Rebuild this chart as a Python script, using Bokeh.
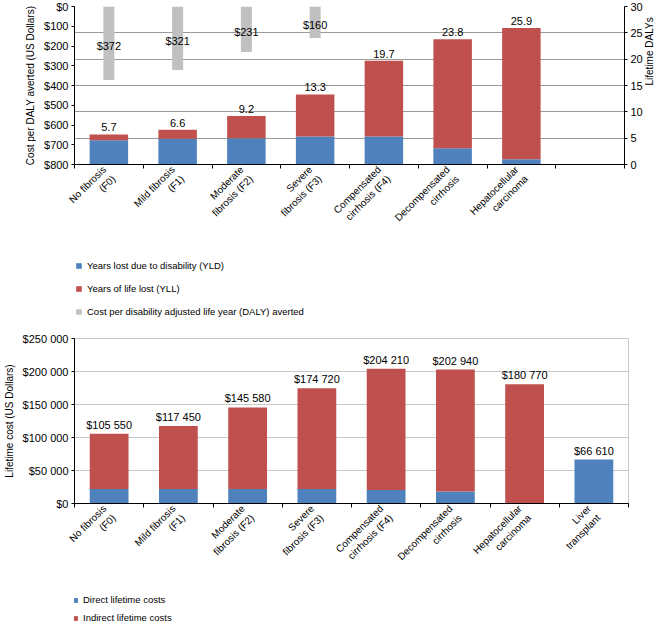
import math
from bokeh.plotting import figure
from bokeh.models import (ColumnDataSource, Range1d, LinearAxis, FixedTicker,
                          Legend, LegendItem, LabelSet)
from bokeh.core.properties import value
from bokeh.layouts import column
from bokeh.embed import file_html
from bokeh.resources import INLINE

# ---------------- data: top chart ----------------
stages_top = ["No fibrosis\n(F0)", "Mild fibrosis\n(F1)", "Moderate\nfibrosis (F2)",
              "Severe\nfibrosis (F3)", "Compensated\ncirrhosis (F4)",
              "Decompensated\ncirrhosis", "Hepatocellular\ncarcinoma"]
yld = [4.6, 4.9, 5.0, 5.3, 5.3, 3.1, 1.0]
daly_total = [5.7, 6.6, 9.2, 13.3, 19.7, 23.8, 25.9]
cost_per_daly = [372, 321, 231, 160]
cost_ticks = [0, 100, 200, 300, 400, 500, 600, 700, 800]
cost_tick_labels = ["$0", "$100", "$200", "$300", "$400", "$500", "$600", "$700", "$800"]
daly_ticks = [0, 5, 10, 15, 20, 25, 30]
legend_top = ["Years lost due to disability (YLD)", "Years of life lost (YLL)",
              "Cost per disability adjusted life year (DALY) averted"]

# ---------------- data: bottom chart ----------------
stages_bottom = stages_top + ["Liver\ntransplant"]
direct_cost = [21800, 21800, 21800, 21800, 20300, 18200, 0, 66610]
total_cost = [105550, 117450, 145580, 174720, 204210, 202940, 180770, 66610]
life_ticks = [0, 50000, 100000, 150000, 200000, 250000]
life_tick_labels = ["$0", "$50 000", "$100 000", "$150 000", "$200 000", "$250 000"]
legend_bottom = ["Direct lifetime costs", "Indirect lifetime costs"]

BLUE = "#4F81BD"
RED = "#C0504D"
GRAY = "#C0C0C0"
FONT = "Liberation Sans"


def style_x_axis(ax, labels):
    n = len(labels)
    ax.ticker = FixedTicker(ticks=list(range(n)), minor_ticks=[i - 0.5 for i in range(9)])
    ax.major_label_overrides = {i: s for i, s in enumerate(labels)}
    ax.major_tick_out = 0
    ax.major_tick_in = 0
    ax.minor_tick_out = 4
    ax.minor_tick_in = 0
    ax.minor_tick_line_color = "black"
    ax.axis_line_color = "black"
    ax.major_label_orientation = math.pi / 4
    ax.major_label_text_font = FONT
    ax.major_label_text_font_size = "10px"
    ax.major_label_text_color = "black"
    ax.major_label_standoff = 4


def style_y_axis(ax, label):
    ax.axis_label = label
    ax.axis_label_text_font = FONT
    ax.axis_label_text_font_size = "10px"
    ax.axis_label_text_font_style = "normal"
    ax.axis_label_text_color = "black"
    ax.axis_label_standoff = 5
    ax.axis_line_color = "black"
    ax.major_tick_out = 3
    ax.major_tick_in = 0
    ax.minor_tick_out = 0
    ax.minor_tick_in = 0
    ax.major_label_text_font = FONT
    ax.major_label_text_font_size = "11px"
    ax.major_label_text_color = "black"
    ax.major_label_standoff = 3


def legend_figure(height, labels, series, glyph, label_h, loc):
    # legend-only figure: zero-width proxy bars share the chart's sources, so
    # only their legend swatches are visible
    lf = figure(width=651, height=height, x_range=Range1d(-0.5, 7.5), y_range=Range1d(-2, -1),
                x_axis_type=None, y_axis_type=None, min_border=0,
                output_backend="svg", toolbar_location=None)
    lf.grid.visible = False
    lf.outline_line_color = None
    items = []
    for lab, (src, bottom, top_, col) in zip(labels, series):
        r = lf.vbar(x="x", bottom=bottom, top=top_, width=0, fill_color=col,
                    line_color=None, source=src)
        items.append(LegendItem(label=lab, renderers=[r]))
    lg = Legend(items=items, location=loc, orientation="vertical")
    lg.border_line_color = None
    lg.background_fill_alpha = 0
    lg.glyph_width = glyph
    lg.glyph_height = glyph
    lg.label_height = label_h
    lg.label_width = 10
    lg.spacing = 3
    lg.padding = 0
    lg.margin = 0
    lg.label_standoff = 5
    lg.label_text_font = FONT
    lg.label_text_font_size = "9.5px"
    lg.label_text_color = "black"
    lf.add_layout(lg, "center")
    return lf


# ================= top chart =================
top = figure(width=656, height=240, frame_width=550, frame_height=158,
             min_border_left=66, min_border_right=40,
             min_border_top=6, min_border_bottom=76,
             x_range=Range1d(-0.5, 7.5), y_range=Range1d(0, 30),
             y_axis_location="right", output_backend="svg", toolbar_location=None)
top.outline_line_color = None
top.xgrid.visible = False
top.extra_y_ranges = {"cost": Range1d(800, 0)}

ra = top.yaxis[0]
ra.ticker = FixedTicker(ticks=daly_ticks)
style_y_axis(ra, "Lifetime DALYs")
ra.axis_label_standoff = 4
try:
    ra.axis_label_orientation = math.pi / 2
except Exception:
    pass
top.ygrid[0].ticker = ra.ticker
top.ygrid[0].grid_line_color = "#9A9A9A"

la = LinearAxis(y_range_name="cost", ticker=FixedTicker(ticks=cost_ticks))
la.major_label_overrides = {t: s for t, s in zip(cost_ticks, cost_tick_labels)}
style_y_axis(la, "Cost per DALY averted (US Dollars)")
top.add_layout(la, "left")

style_x_axis(top.xaxis[0], stages_top)

n1 = len(stages_top)
src1 = ColumnDataSource(dict(
    x=list(range(n1)), zero=[0] * n1, yld=yld, total=daly_total,
    lbl=[f"{v:.1f}" for v in daly_total]))
top.vbar(x="x", bottom="zero", top="yld", width=0.56, fill_color=BLUE,
         line_color=None, source=src1)
top.vbar(x="x", bottom="yld", top="total", width=0.56, fill_color=RED,
         line_color=None, source=src1)

n_c = len(cost_per_daly)
src_c = ColumnDataSource(dict(
    x=list(range(n_c)), zero=[0] * n_c, cost=cost_per_daly,
    mid=[c / 2 for c in cost_per_daly], lbl=[f"${c}" for c in cost_per_daly]))
top.vbar(x="x", top="zero", bottom="cost", width=0.16, fill_color=GRAY,
         line_color=None, source=src_c, y_range_name="cost")

top.add_layout(LabelSet(x="x", y="total", text="lbl", source=src1, y_offset=3,
                        text_align="center", text_baseline="bottom",
                        text_font=value(FONT), text_font_size=value("11px"),
                        text_color="black"))
top.add_layout(LabelSet(x="x", y="mid", text="lbl", source=src_c, y_range_name="cost",
                        y_offset=-3, text_align="center", text_baseline="middle",
                        text_font=value(FONT), text_font_size=value("11px"),
                        text_color="black"))

leg_top = legend_figure(76, legend_top,
                        [(src1, "zero", "yld", BLUE), (src1, "yld", "total", RED),
                         (src_c, "zero", "cost", GRAY)],
                        7, 20, (1, -1))

# ================= bottom chart =================
bot = figure(width=630, height=259, frame_width=554, frame_height=165,
             min_border_left=66, min_border_right=10,
             min_border_top=18, min_border_bottom=76,
             x_range=Range1d(-0.5, 7.5), y_range=Range1d(0, 250000),
             output_backend="svg", toolbar_location=None)
bot.outline_line_color = "#C8C8C8"
bot.xgrid.visible = False
ya = bot.yaxis[0]
ya.ticker = FixedTicker(ticks=life_ticks)
ya.major_label_overrides = {t: s for t, s in zip(life_ticks, life_tick_labels)}
style_y_axis(ya, "Lifetime cost (US Dollars)")
bot.ygrid[0].ticker = ya.ticker
bot.ygrid[0].grid_line_color = "#C8C8C8"
style_x_axis(bot.xaxis[0], stages_bottom)

n2 = len(stages_bottom)
src2 = ColumnDataSource(dict(
    x=list(range(n2)), zero=[0] * n2, direct=direct_cost, total=total_cost,
    lbl=["$" + f"{v:,}".replace(",", " ") for v in total_cost]))
bot.vbar(x="x", bottom="zero", top="direct", width=0.56, fill_color=BLUE,
         line_color=None, source=src2)
bot.vbar(x="x", bottom="direct", top="total", width=0.56, fill_color=RED,
         line_color=None, source=src2)
bot.add_layout(LabelSet(x="x", y="total", text="lbl", source=src2, y_offset=3,
                        text_align="center", text_baseline="bottom",
                        text_font=value(FONT), text_font_size=value("11px"),
                        text_color="black"))

leg_bot = legend_figure(42, legend_bottom,
                        [(src2, "zero", "direct", BLUE), (src2, "direct", "total", RED)],
                        6, 15, (-2, 0))

layout = column(top, leg_top, bot, leg_bot, spacing=0)
open("out.html", "w").write(file_html(layout, INLINE))
